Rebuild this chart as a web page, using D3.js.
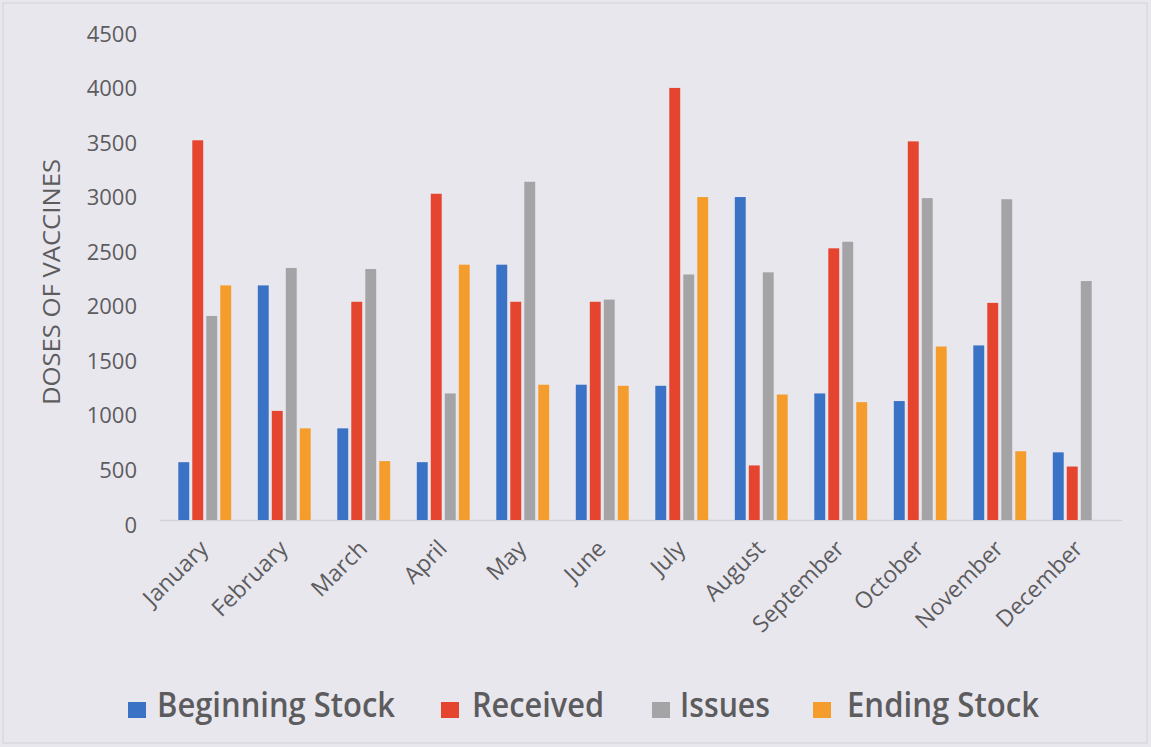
<!DOCTYPE html>
<html>
<head>
<meta charset="utf-8">
<script src="https://cdn.jsdelivr.net/npm/d3@7/dist/d3.min.js"></script>
<style>
  html, body { margin: 0; padding: 0; background: #e9e7ee; }
  svg { display: block; }
</style>
</head>
<body>
<svg id="chart" width="1151" height="747"></svg>
<script>
// Monthly vaccine stock movement (doses)
const months = ["January", "February", "March", "April", "May", "June",
                "July", "August", "September", "October", "November", "December"];
const seriesNames = ["Beginning Stock", "Received", "Issues", "Ending Stock"];
const beginningStock = [530, 2150, 840, 530, 2340, 1240, 1230, 2960, 1160, 1090, 1600, 620];
const received       = [3480, 1000, 2000, 2990, 2000, 2000, 3960, 500, 2490, 3470, 1990, 490];
const issues         = [1870, 2310, 2300, 1160, 3100, 2020, 2250, 2270, 2550, 2950, 2940, 2190];
const endingStock    = [2150, 840, 540, 2340, 1240, 1230, 2960, 1150, 1080, 1590, 630, 0];
const yTicks = [0, 500, 1000, 1500, 2000, 2500, 3000, 3500, 4000, 4500];
const seriesColors = ["#3a72c6", "#e5442f", "#a4a4a7", "#f49d2d"];

const seriesValues = [beginningStock, received, issues, endingStock];
const rows = months.map((m, i) => ({
  month: m,
  values: seriesNames.map((s, j) => ({ series: s, value: seriesValues[j][i] }))
}));

const svg = d3.select("#chart");
const textColor = "#5c5c5e";
const font = "'Open Sans', 'Noto Sans', sans-serif";

// frame
svg.append("rect")
  .attr("x", 3).attr("y", 3).attr("width", 1144).attr("height", 740)
  .attr("fill", "#e9e7ee").attr("stroke", "#d9d7df").attr("stroke-width", 1.5);

const x0 = d3.scaleBand().domain(months).range([165, 1119]).paddingInner(0).paddingOuter(0);
const x1 = d3.scaleBand().domain(seriesNames).range([0, x0.bandwidth()])
  .paddingInner(0.22).paddingOuter(0.95);
const y = d3.scaleLinear().domain([0, 4500]).range([520, 29]);
const color = d3.scaleOrdinal().domain(seriesNames).range(seriesColors);

// y axis labels (no line, no ticks)
const yAxis = svg.append("g")
  .attr("transform", "translate(140,0)")
  .call(d3.axisLeft(y).tickValues(yTicks).tickFormat(d3.format("d")).tickSize(0).tickPadding(3));
yAxis.select(".domain").remove();
yAxis.selectAll("text")
  .attr("font-family", font).attr("font-size", 22).attr("fill", textColor)
  .attr("dy", "0.55em");

// category axis baseline
svg.append("line")
  .attr("x1", 160).attr("x2", 1122).attr("y1", y(0) + 0.5).attr("y2", y(0) + 0.5)
  .attr("stroke", "#d3d2d8").attr("stroke-width", 1.5);

// bars
const groups = svg.append("g").selectAll("g")
  .data(rows).join("g")
  .attr("transform", d => `translate(${x0(d.month)},0)`);
groups.selectAll("rect")
  .data(d => d.values).join("rect")
  .attr("x", d => x1(d.series))
  .attr("width", x1.bandwidth())
  .attr("y", d => y(d.value))
  .attr("height", d => y(0) - y(d.value))
  .attr("fill", d => color(d.series));

// x axis labels, rotated
const xAxis = svg.append("g")
  .attr("transform", `translate(0,${y(0)})`)
  .call(d3.axisBottom(x0).tickSize(0).tickPadding(0));
xAxis.select(".domain").remove();
xAxis.selectAll("text")
  .attr("font-family", font).attr("font-size", 23).attr("fill", textColor)
  .attr("text-anchor", "end")
  .attr("dy", 0)
  .attr("transform", "translate(5,30) rotate(-45)");

// y axis title
svg.append("text")
  .attr("transform", "translate(60,282) rotate(-90)")
  .attr("text-anchor", "middle")
  .attr("font-family", font).attr("font-size", 23).attr("fill", textColor)
  .attr("textLength", 246).attr("lengthAdjust", "spacingAndGlyphs")
  .text("DOSES OF VACCINES");

// legend
const legendLayout = [
  { sq: 128, tx: 157, w: 238 },
  { sq: 441, tx: 472, w: 132 },
  { sq: 652, tx: 680, w: 90 },
  { sq: 813, tx: 847, w: 192 }
];
const legend = svg.append("g").selectAll("g")
  .data(seriesNames).join("g");
legend.append("rect")
  .attr("x", (d, i) => legendLayout[i].sq).attr("y", 702)
  .attr("width", 18).attr("height", 16)
  .attr("fill", d => color(d));
legend.append("text")
  .attr("x", (d, i) => legendLayout[i].tx).attr("y", 717)
  .attr("font-family", font).attr("font-size", 34).attr("font-weight", 600)
  .attr("fill", textColor)
  .attr("textLength", (d, i) => legendLayout[i].w).attr("lengthAdjust", "spacingAndGlyphs")
  .text(d => d);
</script>
</body>
</html>
